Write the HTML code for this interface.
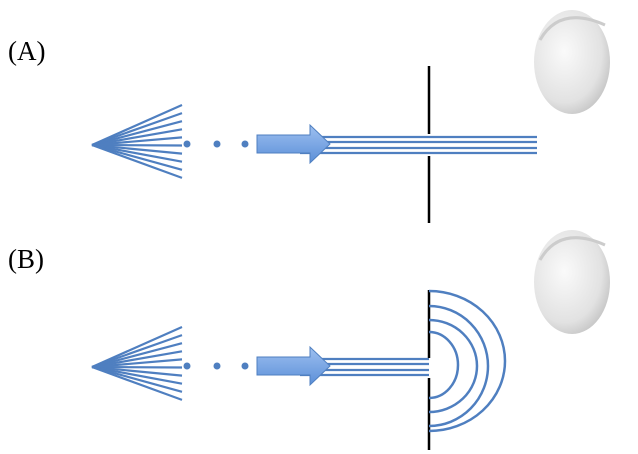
<!DOCTYPE html>
<html><head><meta charset="utf-8"><style>
html,body{margin:0;padding:0;background:#fff;width:638px;height:454px;overflow:hidden}
</style></head><body>
<svg width="638" height="454" viewBox="0 0 638 454">
<defs>
<linearGradient id="ag" x1="0" y1="0" x2="0" y2="1"><stop offset="0" stop-color="#9ec0f0"/><stop offset="1" stop-color="#5b8fd8"/></linearGradient>
<radialGradient id="fg" cx="0.4" cy="0.4" r="0.7"><stop offset="0" stop-color="#fafafa"/><stop offset="0.7" stop-color="#e2e2e2"/><stop offset="1" stop-color="#bdbdbd"/></radialGradient>
</defs>
<text x="8" y="60" font-family="Liberation Serif, serif" font-size="27">(A)</text>
<text x="8" y="268" font-family="Liberation Serif, serif" font-size="27">(B)</text>
<g id="A"></g>
<g id="B" transform="translate(0,222)"></g>
<g stroke="#000" stroke-width="2.5">
<line x1="429" y1="66" x2="429" y2="134"/><line x1="429" y1="156" x2="429" y2="223"/></g>
<g stroke="#000" stroke-width="2.5">
<line x1="429" y1="290" x2="429" y2="358"/><line x1="429" y1="378" x2="429" y2="450"/></g>
<g fill="none" stroke="#4f7fc0" stroke-width="2.5">
<path d="M429 332 A29 33 0 0 1 429 398"/>
<path d="M429 320 A48 46 0 0 1 429 412"/>
<path d="M429 306 A59 60 0 0 1 429 426"/>
<path d="M429 291 A76 70 0 0 1 429 431"/>
</g>
<g><ellipse cx="572" cy="62" rx="38" ry="52" fill="url(#fg)"/><path d="M540 40 Q560 5 605 25" stroke="#ccc" stroke-width="3" fill="none"/></g>
<g><ellipse cx="572" cy="282" rx="38" ry="52" fill="url(#fg)"/><path d="M540 260 Q560 225 605 245" stroke="#ccc" stroke-width="3" fill="none"/></g>
</svg>
<script>
const ns='http://www.w3.org/2000/svg';
function mk(p,tag,at){const e=document.createElementNS(ns,tag);for(const k in at)e.setAttribute(k,at[k]);p.appendChild(e);return e;}
function panel(id,endX){
const g=document.getElementById(id);
for(let i=0;i<10;i++){const y=105+i*8.1;const l=mk(g,'line',{x1:92,y1:145,x2:182,y2:y,stroke:'#4f7fc0','stroke-width':2.2});

}
[187,217,245].forEach(x=>{const c=mk(g,'circle',{cx:x,cy:144,r:3.5,fill:'#4f7fc0'});

});
[137,142,148,153].forEach(y=>{const l=mk(g,'line',{x1:300,y1:y,x2:endX,y2:y,stroke:'#4f7fc0','stroke-width':2.2});

});
const a=mk(g,'path',{d:'M257 135 L310 135 L310 125 L330 144 L310 163 L310 153 L257 153 Z',fill:'url(#ag)',stroke:'#4f7fc0','stroke-width':1});


}
panel('A',537);panel('B',429);
</script>
</body></html>
